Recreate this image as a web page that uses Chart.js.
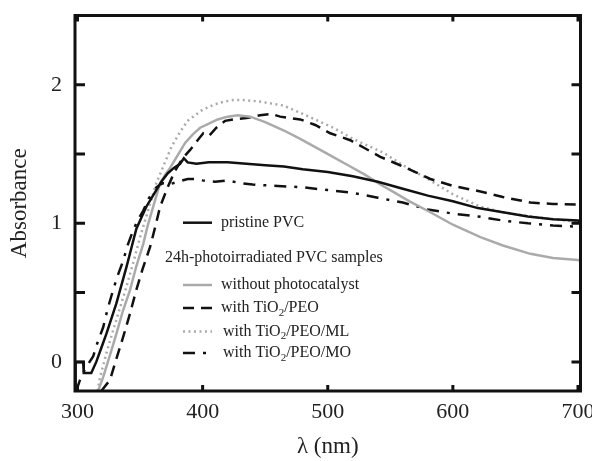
<!DOCTYPE html>
<html lang="en">
<head>
<meta charset="UTF-8">
<title>Absorbance spectra</title>
<script src="https://cdn.jsdelivr.net/npm/chart.js"></script>
<style>
  body { margin: 0; background: #fff; }
  canvas { display: block; }
</style>
</head>
<body>
<canvas id="grafico" width="592" height="461"></canvas>
<script>
// wavelength (nm) / absorbance
const wlPristine  = [298, 298.5, 304.5, 305, 311, 315, 319, 323, 327, 331, 335, 339, 343, 347, 351, 355, 359, 363, 367, 372, 377, 382, 385, 388, 395, 405, 420, 435, 450, 465, 480, 500, 520, 540, 560, 580, 600, 620, 640, 660, 680, 700, 702];
const absPristine = [-0.25, 0, 0, -0.08, -0.08, 0.0, 0.1, 0.2, 0.31, 0.42, 0.55, 0.68, 0.82, 0.96, 1.04, 1.12, 1.18, 1.24, 1.30, 1.36, 1.40, 1.43, 1.47, 1.44, 1.43, 1.44, 1.44, 1.43, 1.42, 1.41, 1.39, 1.37, 1.34, 1.30, 1.25, 1.20, 1.16, 1.11, 1.08, 1.05, 1.03, 1.02, 1.015];

const wlWithout  = [316, 320.5, 326, 331, 336, 342, 347, 352.5, 356, 360.5, 366, 370, 374, 380, 386, 392, 398, 405, 412, 420, 428, 438, 450, 465, 478, 490, 502, 518, 530, 542, 550, 565, 582, 600, 622, 640, 662, 680, 700, 702];
const absWithout = [-0.22, -0.11, 0.05, 0.20, 0.36, 0.52, 0.69, 0.85, 0.98, 1.12, 1.29, 1.35, 1.40, 1.49, 1.58, 1.64, 1.69, 1.72, 1.75, 1.77, 1.78, 1.77, 1.73, 1.67, 1.61, 1.55, 1.49, 1.41, 1.35, 1.28, 1.24, 1.16, 1.08, 0.99, 0.90, 0.84, 0.78, 0.75, 0.735, 0.73];

const wlPEO  = [319, 326, 331, 336.5, 342, 347, 352, 358, 362, 366, 372, 378, 384, 390, 396, 400.5, 405, 411, 418, 424.5, 435, 446, 455, 462, 478, 490, 502, 518, 530, 542, 555, 570, 582, 600, 622, 640, 662, 680, 700, 702];
const absPEO = [-0.21, -0.13, 0.02, 0.18, 0.35, 0.52, 0.67, 0.83, 0.97, 1.12, 1.26, 1.38, 1.47, 1.53, 1.60, 1.65, 1.63, 1.69, 1.74, 1.75, 1.76, 1.78, 1.79, 1.77, 1.75, 1.71, 1.65, 1.60, 1.54, 1.48, 1.43, 1.37, 1.32, 1.27, 1.23, 1.19, 1.15, 1.14, 1.135, 1.135];

const wlML  = [316, 318, 323, 328.5, 334, 339, 345, 350, 354, 358, 363, 368.5, 375, 382, 388, 392.5, 400, 410, 418, 424.5, 432, 445, 464.5, 480, 504.5, 520, 544.5, 560, 582, 600, 622, 640, 662, 680, 700, 702];
const absML = [-0.21, -0.11, 0.06, 0.23, 0.39, 0.54, 0.73, 0.90, 1.02, 1.14, 1.29, 1.41, 1.55, 1.66, 1.74, 1.77, 1.82, 1.86, 1.88, 1.89, 1.89, 1.88, 1.85, 1.79, 1.69, 1.61, 1.51, 1.42, 1.31, 1.21, 1.12, 1.08, 1.05, 1.03, 1.01, 1.005];

const wlMO  = [299, 302, 306, 312.5, 316, 320.5, 324, 328.5, 332, 336.5, 340, 344.5, 348, 352.5, 357, 363, 368, 373, 380, 388, 395, 400, 410, 420, 430, 440, 460, 480, 500, 520, 540, 560, 580, 600, 620, 640, 660, 680, 700, 702];
const absMO = [-0.21, -0.13, -0.05, 0.04, 0.14, 0.25, 0.38, 0.52, 0.62, 0.73, 0.84, 0.95, 1.02, 1.09, 1.18, 1.26, 1.29, 1.28, 1.30, 1.32, 1.32, 1.31, 1.30, 1.31, 1.29, 1.28, 1.27, 1.26, 1.24, 1.22, 1.185, 1.15, 1.10, 1.07, 1.05, 1.02, 1.00, 0.985, 0.975, 0.975];

const xTicks = [300, 400, 500, 600, 700];
const yTicks = [0, 1, 2];
const yMinorTicks = [0, 0.5, 1, 1.5, 2];

const fonte = 'Liberation Serif';
const corTexto = '#222';
const cinza = '#aaaaaa';

function pontos(xs, ys) {
    return xs.map(function (x, i) { return { x: x, y: ys[i] }; });
}

// legenda desenhada à mão por causa do subscrito em TiO2 e da linha de cabeçalho
const legenda = [
    { y: 222.7, texto: ['pristine PVC'], cor: '#111', dash: [] , tx: 221 },
    { y: 258, cabecalho: '24h-photoirradiated PVC samples' },
    { y: 285, texto: ['without photocatalyst'], cor: cinza, dash: [], tx: 221 },
    { y: 308, texto: ['with TiO', '2', '/PEO'], cor: '#111', dash: [11, 7], tx: 221 },
    { y: 331.5, texto: ['with TiO', '2', '/PEO/ML'], cor: cinza, dash: [2, 3.5], tx: 223 },
    { y: 353, texto: ['with TiO', '2', '/PEO/MO'], cor: '#111', dash: [12, 8, 3, 8], tx: 223 }
];

const molduraPlugin = {
    id: 'moldura',
    afterDatasetsDraw(chart) {
        const ctx = chart.ctx;
        const a = chart.chartArea;
        const sx = chart.scales.x, sy = chart.scales.y;
        ctx.save();
        ctx.strokeStyle = '#111';
        ctx.lineWidth = 3;
        ctx.strokeRect(a.left, a.top, a.right - a.left, a.bottom - a.top);
        ctx.lineWidth = 3;
        ctx.beginPath();
        xTicks.forEach(function (v) {
            const px = sx.getPixelForValue(v);
            ctx.moveTo(px, a.bottom); ctx.lineTo(px, a.bottom - 6);
            ctx.moveTo(px, a.top); ctx.lineTo(px, a.top + 6);
        });
        yMinorTicks.forEach(function (v) {
            const py = sy.getPixelForValue(v);
            ctx.moveTo(a.left, py); ctx.lineTo(a.left + 10, py);
            ctx.moveTo(a.right, py); ctx.lineTo(a.right - 9, py);
        });
        ctx.stroke();
        ctx.restore();
    },
    afterDraw(chart) {
        const ctx = chart.ctx;
        ctx.save();
        ctx.textBaseline = 'middle';
        ctx.fillStyle = corTexto;
        legenda.forEach(function (item) {
            if (item.cabecalho) {
                ctx.font = '16px "' + fonte + '"';
                ctx.fillText(item.cabecalho, 165, item.y);
                return;
            }
            ctx.strokeStyle = item.cor;
            ctx.lineWidth = 2.5;
            ctx.setLineDash(item.dash);
            ctx.beginPath();
            ctx.moveTo(183, item.y);
            ctx.lineTo(212, item.y);
            ctx.stroke();
            ctx.setLineDash([]);
            let x = item.tx;
            item.texto.forEach(function (parte, i) {
                if (i === 1) {
                    ctx.font = '11px "' + fonte + '"';
                    ctx.fillText(parte, x, item.y + 5);
                } else {
                    ctx.font = '16px "' + fonte + '"';
                    ctx.fillText(parte, x, item.y);
                }
                x += ctx.measureText(parte).width;
            });
        });
        ctx.restore();
    }
};

const dados = {
    datasets: [
        { label: 'pristine PVC', data: pontos(wlPristine, absPristine), borderColor: '#111', borderWidth: 2.5 },
        { label: 'without photocatalyst', data: pontos(wlWithout, absWithout), borderColor: cinza, borderWidth: 2.5 },
        { label: 'with TiO2/PEO', data: pontos(wlPEO, absPEO), borderColor: '#111', borderWidth: 2.5, borderDash: [11, 7] },
        { label: 'with TiO2/PEO/ML', data: pontos(wlML, absML), borderColor: cinza, borderWidth: 2.5, borderDash: [2, 3.5] },
        { label: 'with TiO2/PEO/MO', data: pontos(wlMO, absMO), borderColor: '#111', borderWidth: 2.5, borderDash: [12, 8, 3, 8] }
    ]
};

const config = {
    type: 'line',
    data: dados,
    options: {
        responsive: false,
        animation: false,
        devicePixelRatio: 1,
        layout: { padding: { top: 15.5, right: 11.5, left: 0, bottom: 0 } },
        elements: { point: { radius: 0 }, line: { tension: 0, fill: false } },
        plugins: {
            legend: { display: false },
            tooltip: { enabled: false }
        },
        scales: {
            x: {
                type: 'linear',
                min: 298,
                max: 702,
                grid: { display: false, drawTicks: false },
                border: { display: false },
                afterBuildTicks: function (s) { s.ticks = xTicks.map(function (v) { return { value: v }; }); },
                afterFit: function (s) { s.height = 70; s.paddingLeft = 0; s.paddingRight = 0; },
                ticks: { font: { family: fonte, size: 22 }, color: corTexto, padding: 8, maxRotation: 0, autoSkip: false },
                title: { display: true, text: 'λ (nm)', font: { family: fonte, size: 23 }, color: corTexto, padding: { top: 0, bottom: 0 } }
            },
            y: {
                min: -0.21,
                max: 2.5,
                grid: { display: false, drawTicks: false },
                border: { display: false },
                afterBuildTicks: function (s) { s.ticks = yTicks.map(function (v) { return { value: v }; }); },
                afterFit: function (s) { s.width = 75; s.paddingTop = 0; s.paddingBottom = 0; },
                ticks: { font: { family: fonte, size: 22 }, color: corTexto, padding: 13 },
                title: { display: true, text: 'Absorbance', font: { family: fonte, size: 23 }, color: corTexto, padding: { top: 6, bottom: 0 } }
            }
        }
    },
    plugins: [molduraPlugin]
};

new Chart(document.getElementById('grafico'), config);
</script>
</body>
</html>
